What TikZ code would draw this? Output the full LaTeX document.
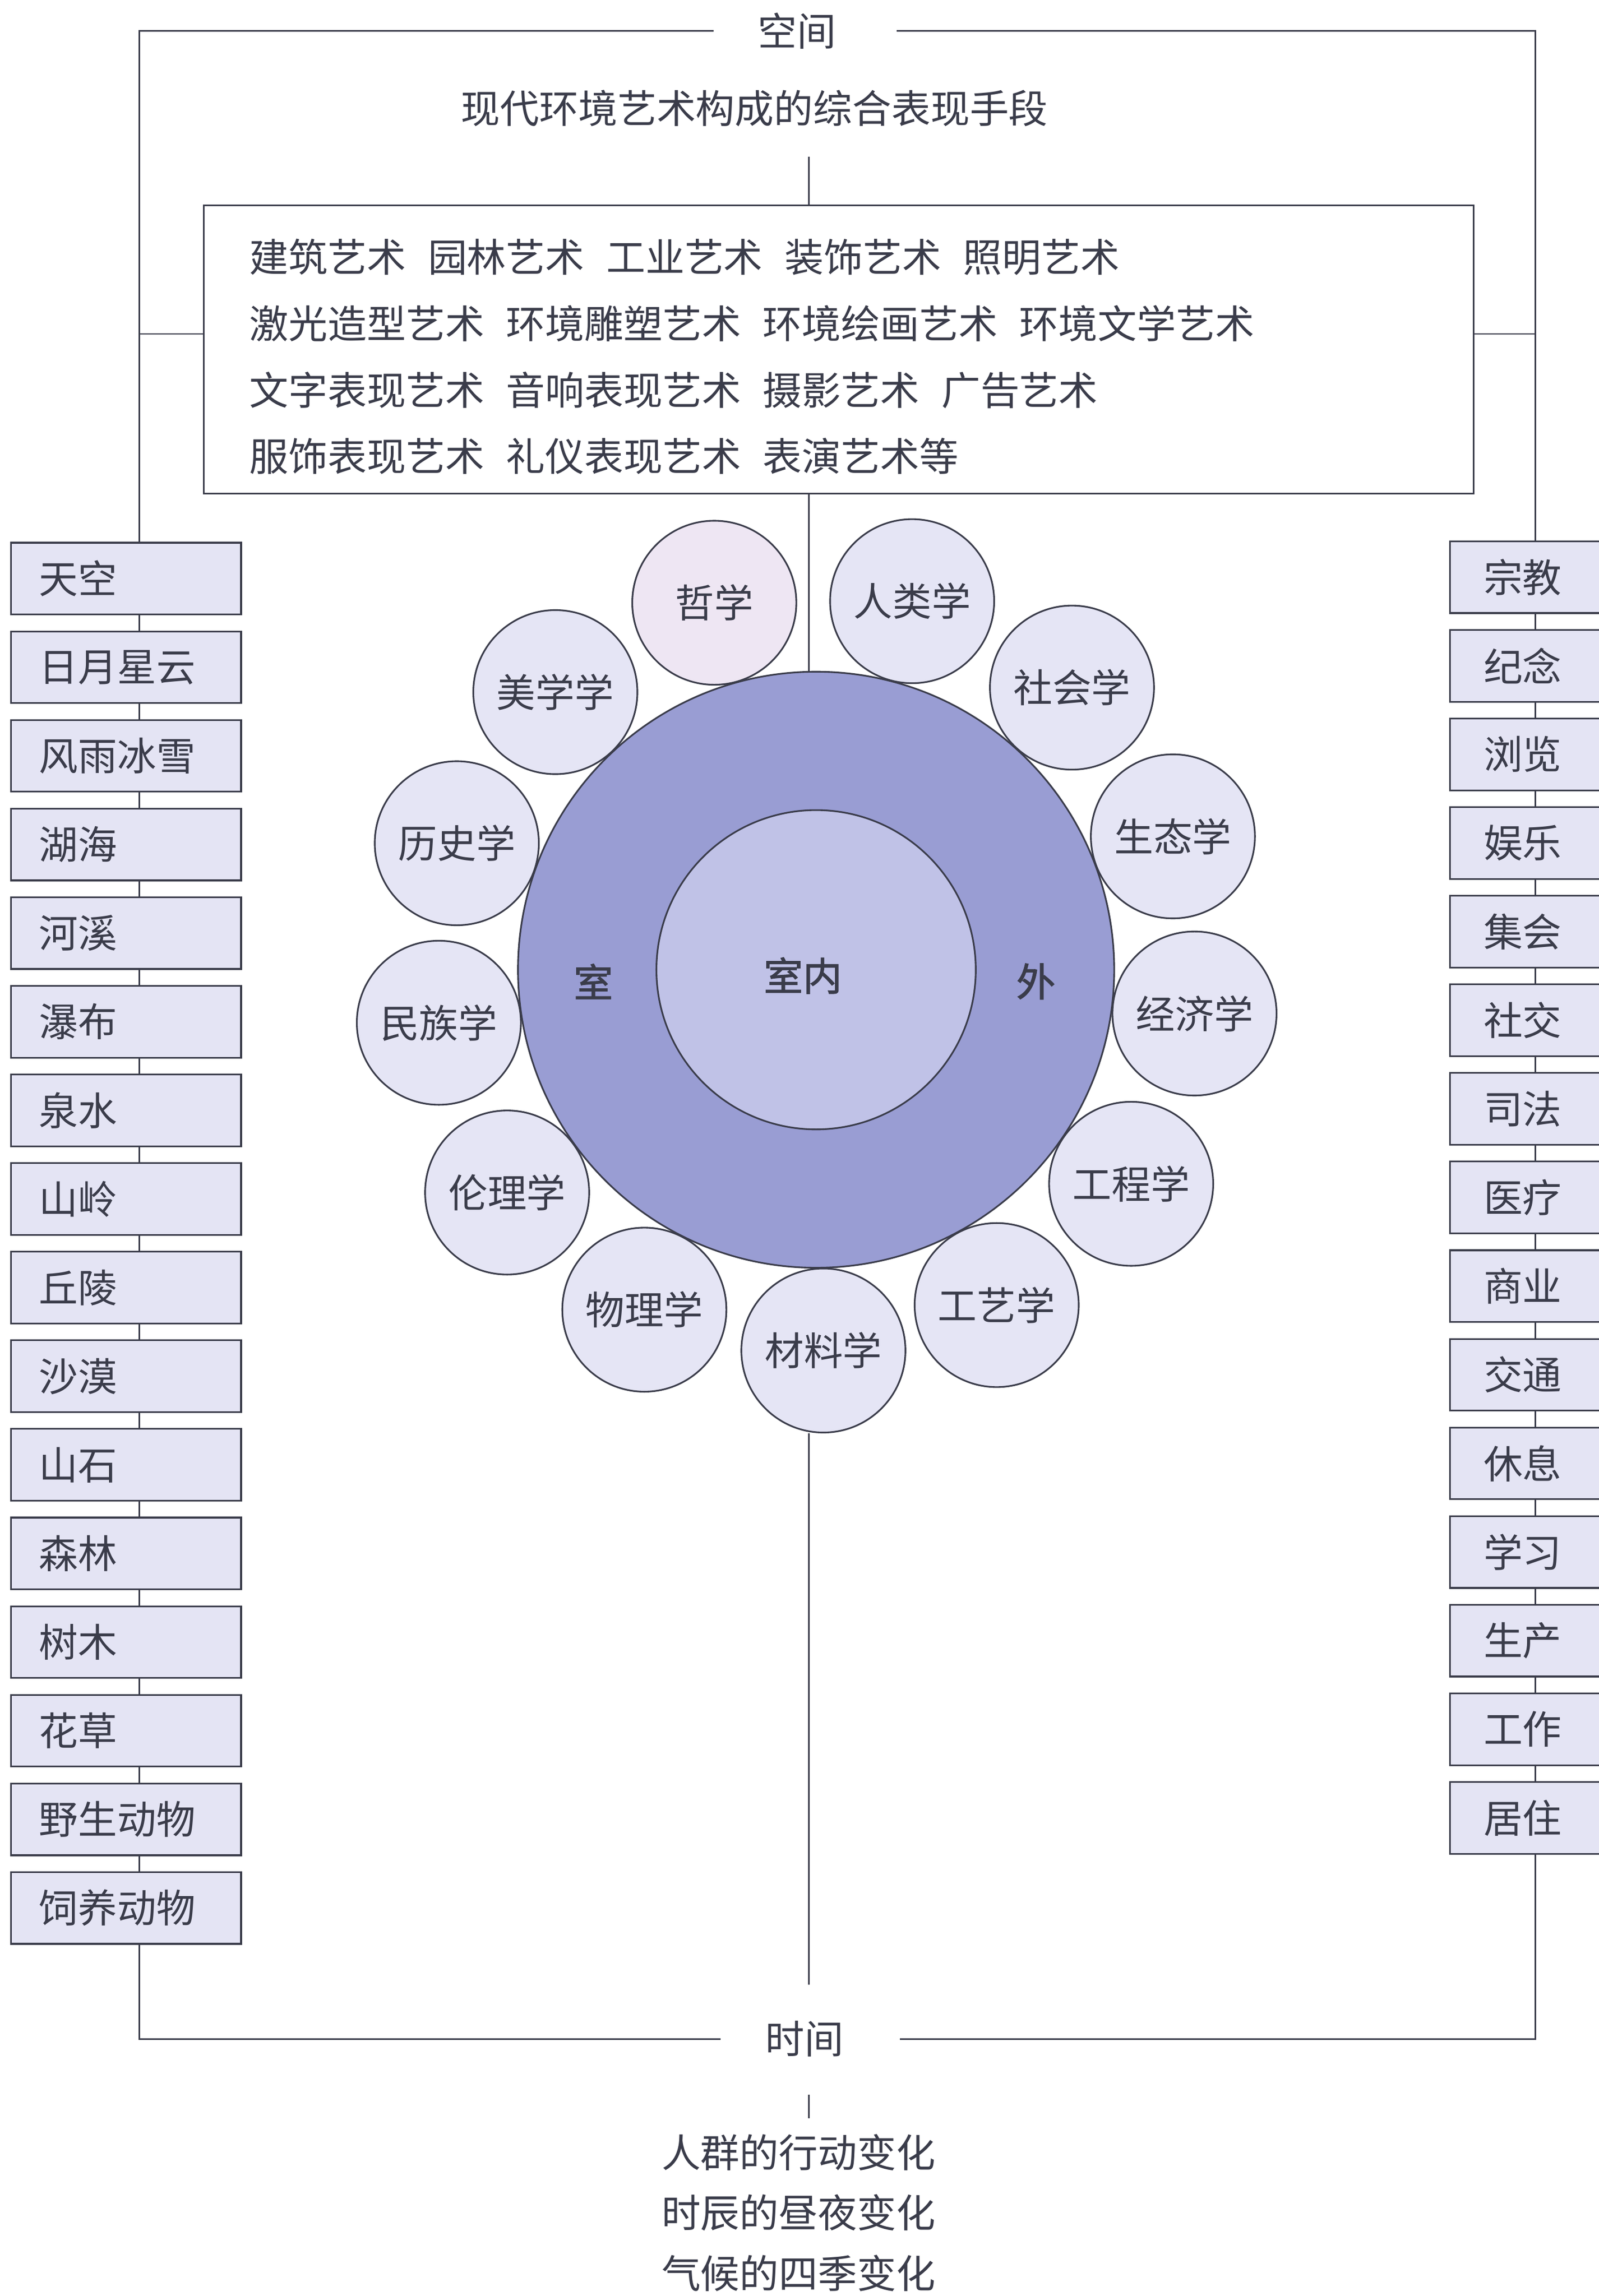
\documentclass[tikz,border=0pt]{standalone}
\usepackage{fontspec}
\setmainfont{Noto Sans CJK SC}
\newfontfamily\cjkbold{Noto Sans CJK SC}[FakeBold=1.6]

\definecolor{ink}{RGB}{58,60,74}
\definecolor{boxfill}{RGB}{228,228,244}
\definecolor{ballfill}{RGB}{229,229,245}
\definecolor{pinkfill}{RGB}{238,230,243}
\definecolor{outerfill}{RGB}{153,157,211}
\definecolor{innerfill}{RGB}{192,194,231}

\newcommand\gap{\hspace{0.56em}}

\begin{document}
\begin{tikzpicture}[x=0.02cm, y=-0.02cm,
  every node/.style={text=ink, font=\fontsize{15.2}{18}\selectfont},
  line/.style={draw=ink, line width=0.55pt},
  leftbox/.style={draw=ink, line width=0.65pt, fill=boxfill, anchor=west,
    minimum height=0.98cm, text width=2.38cm, inner xsep=0.38cm, align=left},
  rightbox/.style={leftbox, text width=1.28cm, inner xsep=0.46cm},
  ball/.style={circle, draw=ink, line width=0.65pt, minimum size=2.24cm, inner sep=0pt}]

  \useasboundingbox (0,0) rectangle (1091,1567.4);

  \coordinate (tl) at (95,21);
  \coordinate (tr) at (1048,21);
  \coordinate (bl) at (95,1392);
  \coordinate (br) at (1048,1392);
  \coordinate (lhook) at (95,228);
  \coordinate (rhook) at (1048,228);
  \coordinate (spine) at (552,107);
  \coordinate (tend) at (552,1355);
  \coordinate (tick1) at (552,1430);
  \coordinate (tick2) at (552,1446);

  \node[inner xsep=0.6cm] (space) at (544,21) {空间};
  \node[inner xsep=0.6cm] (time) at (549,1392) {时间};
  \node (title) at (515,74) {现代环境艺术构成的综合表现手段};

  \node[draw=ink, line width=0.65pt, minimum width=17.34cm, minimum height=3.94cm,
    inner sep=0pt] (tbox) at (572.5,238.5) {};
  \node[anchor=west, align=left, inner sep=0pt,
    font=\fontsize{15.2}{25.8}\selectfont] (arts) at (170,243.5)
    {建筑艺术\gap 园林艺术\gap 工业艺术\gap 装饰艺术\gap 照明艺术\\
     激光造型艺术\gap 环境雕塑艺术\gap 环境绘画艺术\gap 环境文学艺术\\
     文字表现艺术\gap 音响表现艺术\gap 摄影艺术\gap 广告艺术\\
     服饰表现艺术\gap 礼仪表现艺术\gap 表演艺术等};

  \foreach \t [count=\i] in {天空,日月星云,风雨冰雪,湖海,河溪,瀑布,泉水,山岭,
      丘陵,沙漠,山石,森林,树木,花草,野生动物,饲养动物}
    \node[leftbox] (L\i) at (7,{395+60.5*(\i-1)}) {\t};

  \foreach \t [count=\i] in {宗教,纪念,浏览,娱乐,集会,社交,司法,医疗,
      商业,交通,休息,学习,生产,工作,居住}
    \node[rightbox] (R\i) at (989,{394+60.5*(\i-1)}) {\t};

  \node[circle, draw=ink, line width=0.65pt, fill=outerfill, minimum size=8.14cm,
    inner sep=0pt] (ring) at (557,662) {};
  \node[circle, draw=ink, line width=0.65pt, fill=innerfill, minimum size=4.36cm,
    inner sep=0pt] (indoor) at (557,662) {};
  \node[font=\cjkbold\fontsize{15.2}{18}\selectfont] (shi) at (405,670) {室};
  \node[font=\cjkbold\fontsize{15.2}{18}\selectfont] (wai) at (707,670) {外};
  \node[font=\cjkbold\fontsize{15.2}{18}\selectfont] (shinei) at (548,666) {室内};

  \foreach \a/\t/\f [count=\k] in {-105.5/哲学/pinkfill, -75.4/人类学/ballfill,
      -47.8/社会学/ballfill, -20.5/生态学/ballfill, 6.6/经济学/ballfill,
      34.2/工程学/ballfill, 61.7/工艺学/ballfill, 88.9/材料学/ballfill,
      116.8/物理学/ballfill, 144.2/伦理学/ballfill, 172/民族学/ballfill,
      -160.6/历史学/ballfill, -133.2/美学学/ballfill}
    \node[ball, fill=\f] (sci\k) at ([shift={(\a:260)}]ring.center) {\t};

  \node[align=center, font=\fontsize{15.2}{23.5}\selectfont] (changes) at (545,1510.5)
    {人群的行动变化\\时辰的昼夜变化\\气候的四季变化};


  \draw[line] (space.west) -- (tl) -- (L1.north -| tl);
  \draw[line] ([xshift=0.22cm]space.east) -- (tr) -- (R1.north -| tr);
  \draw[line] (L16.south -| bl) -- (bl) -- (time.west);
  \draw[line] (R15.south -| br) -- (br) -- ([xshift=0.16cm]time.east);

  \foreach \i [evaluate=\i as \j using int(\i+1)] in {1,...,15}
    \draw[line] (L\i.south -| tl) -- (L\j.north -| tl);
  \foreach \i [evaluate=\i as \j using int(\i+1)] in {1,...,14}
    \draw[line] (R\i.south -| tr) -- (R\j.north -| tr);

  \draw[line] (lhook) -- (lhook -| tbox.west);
  \draw[line] (rhook) -- (rhook -| tbox.east);

  \draw[line] (spine) -- (spine |- tbox.north);
  \draw[line] (tbox.south -| spine) -- (ring.north -| spine);
  \draw[line] (sci8.south -| spine) -- (tend);
  \draw[line] (tick1) -- (tick2);

\end{tikzpicture}
\end{document}
